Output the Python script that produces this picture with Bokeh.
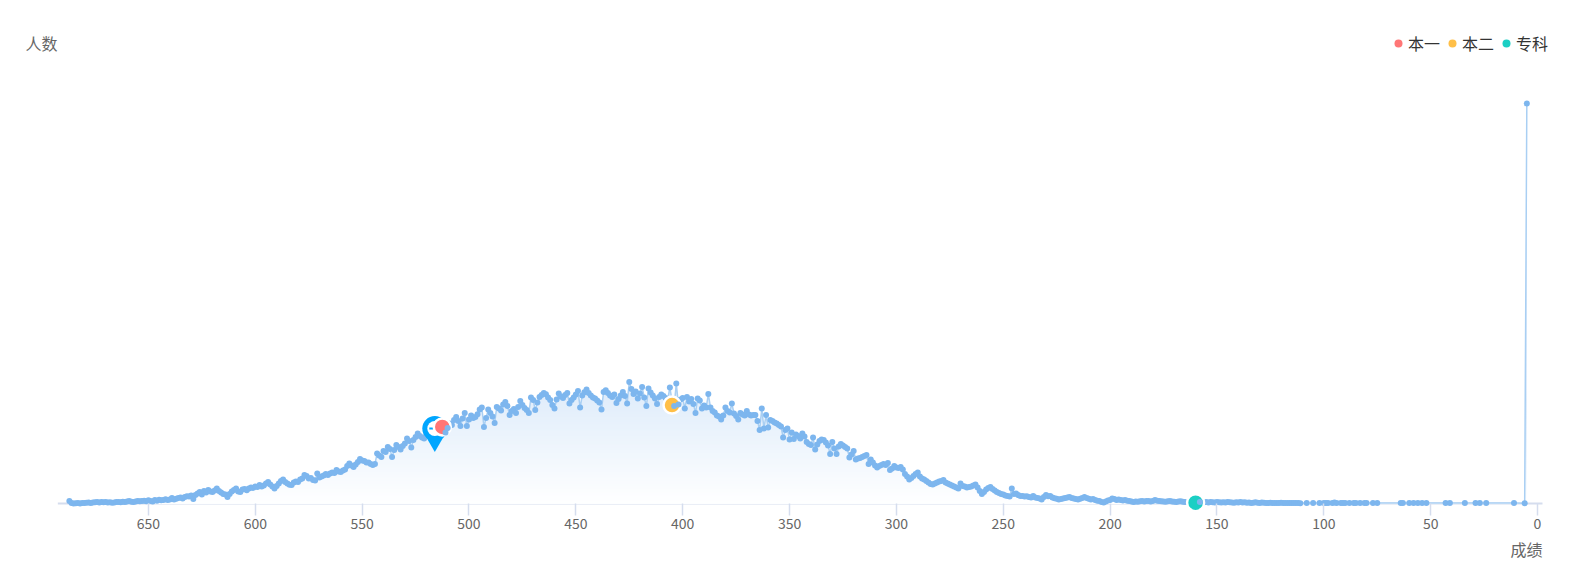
from bokeh.embed import file_html
from bokeh.resources import INLINE
from bokeh.plotting import figure
from bokeh.models import Range1d, LinearAxis, FixedTicker, Title, Label, Legend, LegendItem

# counts, one per score, starting at 687 and going down
counts_dense = [
    13,2,0,1,3,0,2,3,4,5,
    3,5,6,7,5,8,6,8,5,6,
    4,5,7,8,6,9,7,10,12,9,
    7,10,12,11,13,14,11,16,12,10,
    17,14,19,16,18,21,17,20,28,20,
    24,27,30,25,33,36,35,40,23,42,
    50,58,45,62,55,67,60,58,65,75,
    62,55,48,45,33,48,60,68,75,60,
    58,70,72,66,75,80,78,85,82,92,
    85,90,100,108,95,85,75,88,100,112,
    120,108,100,94,92,105,110,108,120,125,
    142,138,125,128,118,115,150,130,135,140,
    148,142,150,155,152,167,160,158,165,170,
    188,200,190,183,195,208,222,215,212,205,
    205,198,192,198,250,240,232,262,258,283,
    272,233,268,292,282,270,288,300,325,312,
    280,318,332,350,338,330,325,342,348,358,
    368,372,360,376,365,358,355,378,400,392,
    418,433,412,387,425,453,387,420,440,428,
    433,446,470,480,383,428,470,452,435,403,
    483,475,465,495,508,488,442,462,472,453,
    482,513,492,478,468,453,530,518,467,505,
    532,542,553,546,530,518,492,475,520,550,
    535,528,542,553,500,518,530,545,563,480,
    540,556,570,552,540,530,525,515,505,470,
    558,566,552,540,532,545,503,522,540,558,
    538,500,608,572,548,560,525,550,583,530,
    487,575,555,540,525,497,532,545,538,528,
    520,580,515,487,600,495,520,528,475,533,
    510,522,498,453,525,515,475,490,480,547,
    480,462,455,440,435,420,440,480,462,455,
    500,450,438,420,452,445,440,462,445,440,
    442,442,413,367,475,375,442,380,417,412,
    405,400,392,385,330,367,375,320,355,323,
    345,338,325,350,335,308,298,292,330,270,
    295,312,320,318,305,290,247,308,275,247,
    285,297,290,282,275,230,245,262,220,225,
    228,232,238,242,197,220,205,190,180,188,
    192,198,192,203,167,175,187,180,178,183,
    170,147,135,120,128,138,148,155,135,125,
    120,112,105,98,95,100,105,110,112,117,
    105,100,95,90,85,80,75,100,88,85,
    80,82,85,90,95,80,62,47,58,70,
    78,83,72,65,58,52,48,45,40,38,
    35,75,48,50,42,37,38,35,36,32,
    30,38,30,28,25,20,32,42,36,38,
    30,26,24,20,22,25,28,30,33,28,
    25,22,20,24,28,33,27,24,20,22,
    18,14,12,8,5,10,15,18,25,22,
    18,20,18,15,17,14,12,10,8,10,
    9,11,12,10,13,12,10,12,17,14,
    12,11,10,9,11,12,10,9,8,10,
    11,9,8,8,8,7,6,7,6,8,
    7,6,7,5,8,6,5,7,6,5,
    6,5,7,6,5,4,6,5,7,5,
    6,4,5,3,4,6,4,3,5,4,
    3,3,4,2,3,3,2,4,3,2,
    3,2,2,3,2,2,1,
]
scores_dense = list(range(687, 687 - len(counts_dense), -1))

scores_tail = [108,105,102,100,99,98,96,95,94,92,91,90,88,86,85,83,81,80,77,75,
               64,63,60,58,56,54,52,43,41,34,29,27,24,11,6,5]
counts_tail = [2,2,2,3,3,2,3,5,3,3,2,3,2,2,3,2,3,2,2,2,
               2,3,2,2,2,2,2,2,2,2,2,2,2,2,1,2000]

scores = scores_dense + scores_tail
counts = counts_dense + counts_tail

mark_names = ["本一", "本二", "专科"]
mark_scores = [512.5, 405, 160]
mark_counts = [383, 492, 4]
mark_colors = ["#FF7676", "#FFBF47", "#1CCFC4"]

pin_score = [516]
pin_head = [375]
pin_tip = [327]

# points that sit in front of the mark circles
front_scores = [511, 510, 404, 402, 158]

tick_values = [650, 600, 550, 500, 450, 400, 350, 300, 250, 200, 150, 100, 50, 0]
axis_start = 692.4
axis_end = -2.34
x_label = "成绩"
y_label = "人数"

FONT = "Noto Sans CJK SC"
AXIS_COLOR = "#D5DDEE"
# the plot frame is wider and taller than the drawn axis so the legend, 人数 and the 专科 circle stay inside it
p = figure(width=1576, height=573, min_border_left=20, min_border_right=16,
           min_border_top=25, min_border_bottom=60,
           x_range=Range1d(709.87, -10.76), y_range=Range1d(-50, 2390),
           x_axis_location=None, y_axis_location=None,
           toolbar_location=None, output_backend="svg", background_fill_color="white",
           border_fill_color="white", outline_line_color=None)
p.grid.visible = False

axis = LinearAxis(ticker=FixedTicker(ticks=tick_values))
axis.axis_line_color = None
axis.major_tick_line_color = AXIS_COLOR
axis.major_tick_line_width = 1.5
axis.major_tick_in = 10
axis.major_tick_out = 2
axis.minor_tick_line_color = None
axis.major_label_text_color = "#666666"
axis.major_label_text_font = FONT
axis.major_label_text_font_size = "14px"
axis.major_label_standoff = 2
p.add_layout(axis, "below")
p.segment(x0=[axis_start], y0=[0], x1=[axis_end], y1=[0], line_color=AXIS_COLOR, line_width=2)

# area under the curve, fading to white at the baseline
BAND = 10
TOP = 600
TOP_RGB = (221, 235, 250)
levels = list(range(BAND, TOP + BAND, BAND))
for level in [max(counts)] + levels[::-1]:
    t = min(level, TOP) / TOP
    rgb = tuple(round(255 + (c - 255) * t) for c in TOP_RGB)
    p.varea(x=scores, y1=[0] * len(scores), y2=[min(c, level) for c in counts],
            fill_color="#%02x%02x%02x" % rgb, fill_alpha=1)

p.line(scores, counts, line_color="#A9CFF3", line_width=1.5)
p.scatter(scores, counts, marker="circle", size=6, fill_color="#7DB6EE", line_color=None)

# pin
p.scatter(pin_score, pin_tip, marker="inverted_triangle", size=24, fill_color="#00A6FF", line_color=None)
p.scatter(pin_score, pin_head, marker="circle", size=25, fill_color="#00A6FF", line_color=None)
p.scatter(pin_score, pin_head, marker="circle", size=15, fill_color="white", line_color=None)
p.scatter(pin_score, pin_head, marker="dash", size=11, line_color="#00A6FF", line_width=2)

items = []
for name, s, c, col in zip(mark_names, mark_scores, mark_counts, mark_colors):
    p.scatter([s], [c], marker="circle", size=17, fill_color=col, line_color="white", line_width=2.5)
    # legend key without the white ring of the mark; its point lies below the visible range
    key = p.scatter([s], [-1000], marker="circle", size=8, fill_color=col, line_color=None)
    items.append(LegendItem(label=name, renderers=[key]))

front_counts = [counts[scores.index(s)] for s in front_scores]
p.scatter(front_scores, front_counts, marker="circle", size=6, fill_color="#7DB6EE", line_color=None)

legend = Legend(items=items, orientation="horizontal", location=(1368, 458),
                glyph_width=20, glyph_height=20, label_standoff=0, spacing=2,
                padding=0, margin=0, border_line_color=None, background_fill_alpha=0,
                label_text_font=FONT, label_text_font_size="16px", label_text_color="#333333")
p.add_layout(legend, "center")

p.add_layout(Label(x=5, y=470.5, x_units="screen", y_units="screen", text=y_label,
                   text_font=FONT, text_font_size="16px", text_color="#666666",
                   text_align="left", text_baseline="middle"))
p.add_layout(Title(text=x_label, align="right", offset=18, standoff=10, vertical_align="top",
                   text_font=FONT, text_font_size="16px", text_font_style="normal",
                   text_color="#666666"), "below")

open("out.html", "w").write(file_html(p, INLINE))
